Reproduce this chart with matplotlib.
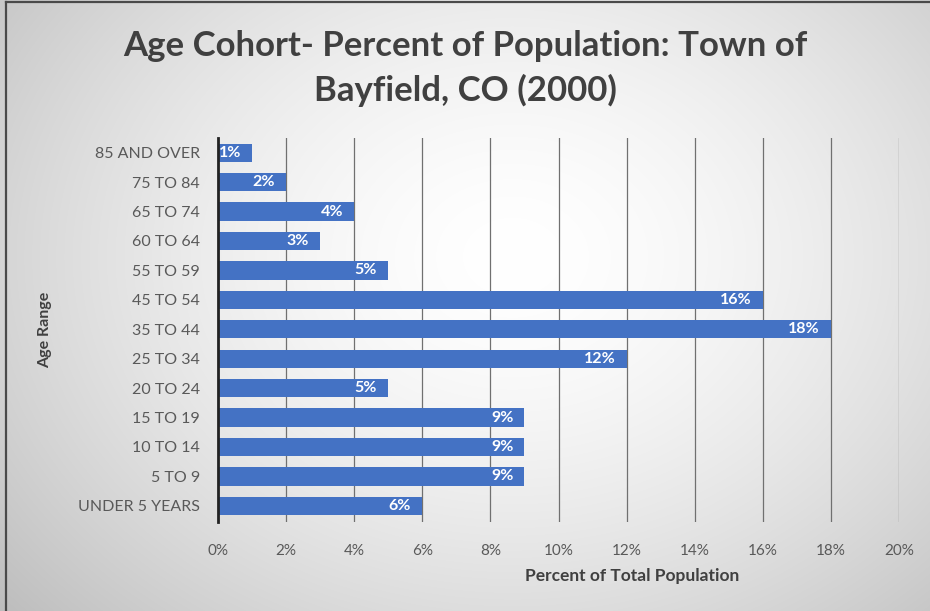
import numpy as np
import matplotlib
matplotlib.use("Agg")
import matplotlib.pyplot as plt
from matplotlib.ticker import FuncFormatter

plt.rcParams['font.family'] = ['Lato', 'DejaVu Sans']

# Age cohorts (bottom to top) and their share of the population, in percent
age_groups = ["UNDER 5 YEARS", "5 TO 9", "10 TO 14", "15 TO 19", "20 TO 24",
              "25 TO 34", "35 TO 44", "45 TO 54", "55 TO 59", "60 TO 64",
              "65 TO 74", "75 TO 84", "85 AND OVER"]
percent = [6, 9, 9, 9, 5, 12, 18, 16, 5, 3, 4, 2, 1]
x_ticks = [0, 2, 4, 6, 8, 10, 12, 14, 16, 18, 20]

W, H = 930, 611
fig = plt.figure(figsize=(W / 100, H / 100), dpi=100)

# soft radial backdrop: white in the middle, grey towards the corners
bg = fig.add_axes([0, 0, 1, 1], zorder=-10)
yy, xx = np.mgrid[0:H, 0:W]
r = np.sqrt(((xx - W * 0.55) / (W * 0.62)) ** 2 + ((yy - H * 0.42) / (H * 0.75)) ** 2)
shade = 1.0 - 0.20 * np.clip(r, 0, 1.2) ** 1.6
bg.imshow(np.dstack([shade] * 3), aspect='auto', extent=[0, 1, 0, 1], origin='upper')
bg.set_axis_off()
# frame along top and left edges
bg.plot([0.0065, 0.0065], [0, 0.996], color="#4a4a4a", lw=1.6, transform=bg.transAxes)
bg.plot([0.0065, 1], [0.996, 0.996], color="#4a4a4a", lw=1.6, transform=bg.transAxes)
bg.set_xlim(0, 1)
bg.set_ylim(0, 1)

ax = fig.add_axes([218 / W, 1 - 522 / H, (899 - 218) / W, (522 - 138) / H])
ax.set_facecolor("none")

ypos = np.arange(len(age_groups))
bars = ax.barh(ypos, percent, height=0.62, color="#4472C4", zorder=3)

ax.set_xlim(0, 20)
ax.set_ylim(-0.55, len(age_groups) - 0.5)
ax.set_xticks(x_ticks)
ax.xaxis.set_major_formatter(FuncFormatter(lambda v, p: f"{v:.0f}%"))
ax.set_yticks(ypos)
ax.set_yticklabels(age_groups)
ax.tick_params(axis='both', length=0, labelcolor="#595959")
ax.tick_params(axis='y', pad=13, labelsize=11.5)
ax.tick_params(axis='x', pad=16, labelsize=11)

ax.grid(axis='x', color="#707070", lw=0.9, zorder=1)
ax.set_axisbelow(True)
for s in ["top", "right", "bottom"]:
    ax.spines[s].set_visible(False)
ax.spines["left"].set_color("#222222")
ax.spines["left"].set_linewidth(2)
ax.spines["left"].set_zorder(4)

for b, v in zip(bars, percent):
    ax.annotate(f"{v}%", xy=(v, b.get_y() + b.get_height() / 2),
                xytext=(-8, 0), textcoords="offset points",
                ha="right", va="center", color="white",
                fontsize=11.5, fontweight="bold", zorder=5)

fig.text(0.5, 1 - 46 / H, "Age Cohort- Percent of Population: Town of",
         ha="center", va="center", fontsize=25, fontweight="bold", color="#404040")
fig.text(0.5, 1 - 90 / H, "Bayfield, CO (2000)",
         ha="center", va="center", fontsize=25, fontweight="bold", color="#404040")

fig.text(632 / W, 1 - 576 / H, "Percent of Total Population", ha="center",
         va="center", fontsize=12.5, fontweight="bold", color="#404040")
fig.text(45 / W, 1 - 330 / H, "Age Range", ha="center", va="center",
         rotation=90, fontsize=11.5, fontweight="bold", color="#404040")

fig.savefig("out.png", dpi=100)
